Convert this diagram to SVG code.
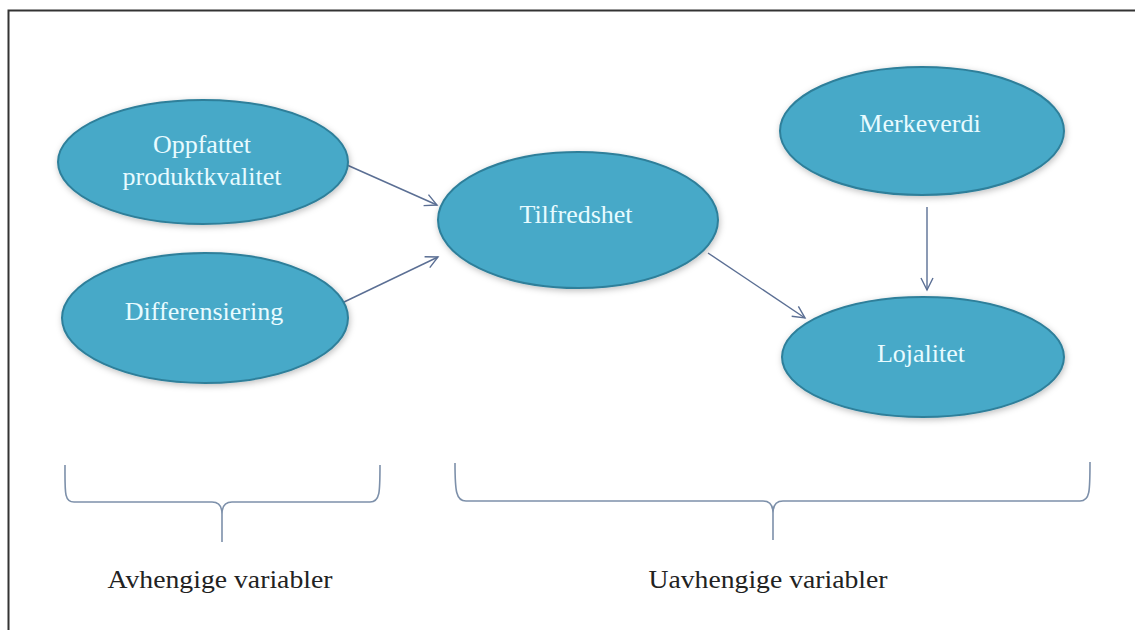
<svg xmlns="http://www.w3.org/2000/svg" width="1135" height="630" viewBox="0 0 1135 630">
<style>
.node ellipse{fill:#46a9c8;stroke:#2f7f9a;stroke-width:2;filter:url(#sh)}
.node text{font-family:"Liberation Serif",serif;font-size:26px;fill:#e8fbff;text-anchor:middle}
.conn line{stroke:#5b6f94;stroke-width:1.4;fill:none;marker-end:url(#arr)}
.brace{fill:none;stroke:#7d90aa;stroke-width:1.6}
.lbl{font-family:"Liberation Serif",serif;font-size:26px;fill:#222;text-anchor:middle}
</style>
<defs>
<filter id="sh" x="-20%" y="-20%" width="140%" height="140%">
<feDropShadow dx="1" dy="2" stdDeviation="3" flood-color="#000" flood-opacity="0.25"/>
</filter>
<marker id="arr" markerUnits="userSpaceOnUse" markerWidth="16" markerHeight="16" refX="13" refY="7" orient="auto" viewBox="0 0 16 14">
<path d="M1,1 L13,7 L1,13" fill="none" stroke="#5b6f94" stroke-width="1.4"/>
</marker>
</defs>
<rect width="1135" height="630" fill="#fff"/>
<path d="M8.5,630 V10.5 H1135" fill="none" stroke="#333" stroke-width="2"/>

<g id="connectors" class="conn">
<line x1="347" y1="165" x2="437" y2="205"/>
<line x1="342" y1="303" x2="438" y2="257"/>
<line x1="708" y1="253" x2="805" y2="318"/>
<line x1="927" y1="207" x2="927" y2="290"/>
</g>

<g id="n-oppfattet" class="node">
<ellipse cx="203" cy="162" rx="145" ry="62"/>
<text x="202" y="153">Oppfattet</text>
<text x="202" y="185">produktkvalitet</text>
</g>
<g id="n-differensiering" class="node">
<ellipse cx="205" cy="318" rx="143" ry="65"/>
<text x="204" y="320">Differensiering</text>
</g>
<g id="n-tilfredshet" class="node">
<ellipse cx="578" cy="220" rx="140" ry="68"/>
<text x="576" y="223">Tilfredshet</text>
</g>
<g id="n-merkeverdi" class="node">
<ellipse cx="922" cy="131" rx="142" ry="64"/>
<text x="920" y="132">Merkeverdi</text>
</g>
<g id="n-lojalitet" class="node">
<ellipse cx="923" cy="357" rx="141" ry="60"/>
<text x="921" y="362">Lojalitet</text>
</g>

<g id="brace-left">
<path class="brace" d="M65,465 C65,492 64,502 74,502 L212,502 C219,502 222,506 222,514 L222,542 M222,514 C222,506 225,502 232,502 L370,502 C380,502 380,492 380,465"/>
<text class="lbl" x="220" y="588" textLength="225" lengthAdjust="spacingAndGlyphs">Avhengige variabler</text>
</g>
<g id="brace-right">
<path class="brace" d="M455,463 C455,491 456,501 466,501 L763,501 C770,501 773,505 773,513 L773,540 M773,513 C773,505 776,501 783,501 L1080,501 C1090,501 1090,491 1090,462"/>
<text class="lbl" x="768" y="588" textLength="239" lengthAdjust="spacingAndGlyphs">Uavhengige variabler</text>
</g>
</svg>
